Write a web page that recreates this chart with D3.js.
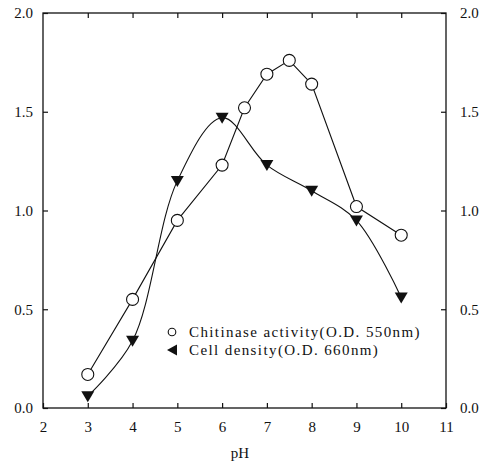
<!DOCTYPE html>
<html>
<head>
<meta charset="utf-8">
<script src="https://cdn.jsdelivr.net/npm/d3@7"></script>
<style>
  body { margin: 0; background: #fff; }
  svg text { font-family: "Liberation Serif", "DejaVu Serif", serif; fill: #111; }
</style>
</head>
<body>
<div id="app"></div>
<script>
// 数据
const chitinasePH = [3, 4, 5, 6, 6.5, 7, 7.5, 8, 9, 10]
const chitinaseOD = [0.17, 0.55, 0.95, 1.23, 1.52, 1.69, 1.76, 1.64, 1.02, 0.875]
const cellPH = [3, 4, 5, 6, 7, 8, 9, 10]
const cellOD = [0.06, 0.34, 1.15, 1.47, 1.23, 1.10, 0.95, 0.56]
const xTicks = [2, 3, 4, 5, 6, 7, 8, 9, 10, 11]
const yTicks = [0, 0.5, 1.0, 1.5, 2.0]
const legendLabels = ['Chitinase activity(O.D. 550nm)', 'Cell density(O.D. 660nm)']

const width = 485
const height = 465
const margin = { top: 13, right: 39, bottom: 57, left: 43 }
const innerW = width - margin.left - margin.right
const innerH = height - margin.top - margin.bottom

const svg = d3.select('#app')
  .append('svg')
  .attr('width', width)
  .attr('height', height)

const g = svg.append('g')
  .attr('transform', `translate(${margin.left}, ${margin.top})`)

const x = d3.scaleLinear().domain([2, 11]).range([0, innerW])
const y = d3.scaleLinear().domain([0, 2]).range([innerH, 0])

// 边框
g.append('rect')
  .attr('width', innerW)
  .attr('height', innerH)
  .attr('fill', 'none')
  .attr('stroke', '#111')
  .attr('stroke-width', 1.3)

// 坐标轴，刻度朝内
const styleAxis = sel => {
  sel.select('.domain').remove()
  sel.selectAll('line').attr('stroke', '#111').attr('stroke-width', 1.2)
  sel.selectAll('text').attr('font-size', 15).attr('font-family', '"Liberation Serif", serif')
}
g.append('g')
  .attr('transform', `translate(0, ${innerH})`)
  .call(d3.axisBottom(x).tickValues(xTicks).tickSize(-5).tickPadding(13).tickFormat(d3.format('d')))
  .call(styleAxis)
g.append('g')
  .call(d3.axisTop(x).tickValues(xTicks.slice(1, -1)).tickSize(-5).tickFormat(''))
  .call(styleAxis)
g.append('g')
  .call(d3.axisLeft(y).tickValues(yTicks).tickSize(-5).tickPadding(10).tickFormat(d3.format('.1f')))
  .call(styleAxis)
g.append('g')
  .attr('transform', `translate(${innerW}, 0)`)
  .call(d3.axisRight(y).tickValues(yTicks).tickSize(-5).tickPadding(14).tickFormat(d3.format('.1f')))
  .call(styleAxis)

g.append('text')
  .attr('x', x(6.4))
  .attr('y', innerH + 50)
  .attr('text-anchor', 'middle')
  .attr('font-size', 15)
  .text('pH')

// 曲线
const chit = chitinasePH.map((p, i) => [p, chitinaseOD[i]])
const cell = cellPH.map((p, i) => [p, cellOD[i]])

const lineLinear = d3.line().x(d => x(d[0])).y(d => y(d[1]))
const lineSmooth = d3.line().x(d => x(d[0])).y(d => y(d[1])).curve(d3.curveCatmullRom.alpha(0.5))

g.append('path')
  .attr('d', lineSmooth(cell))
  .attr('fill', 'none')
  .attr('stroke', '#111')
  .attr('stroke-width', 1.1)
g.append('path')
  .attr('d', lineLinear(chit))
  .attr('fill', 'none')
  .attr('stroke', '#111')
  .attr('stroke-width', 1.1)

// 三角形标记（朝下）
const triDown = 'M-6.5,-5 L6.5,-5 L0,6 Z'
g.selectAll('.tri')
  .data(cell)
  .enter()
  .append('path')
  .attr('class', 'tri')
  .attr('transform', d => `translate(${x(d[0])}, ${y(d[1])})`)
  .attr('d', triDown)
  .attr('fill', '#111')

g.selectAll('.circ')
  .data(chit)
  .enter()
  .append('circle')
  .attr('class', 'circ')
  .attr('cx', d => x(d[0]))
  .attr('cy', d => y(d[1]))
  .attr('r', 6)
  .attr('fill', '#fff')
  .attr('stroke', '#111')
  .attr('stroke-width', 1.1)

// 图例
const lg = svg.append('g').attr('transform', 'translate(172, 332)')
lg.append('circle')
  .attr('r', 3.8)
  .attr('fill', 'none')
  .attr('stroke', '#111')
  .attr('stroke-width', 1.1)
lg.append('path')
  .attr('transform', 'translate(0, 18)')
  .attr('d', 'M-5,0 L5,-5.5 L5,5.5 Z')
  .attr('fill', '#111')
lg.selectAll('text')
  .data(legendLabels)
  .enter()
  .append('text')
  .attr('x', 17)
  .attr('y', (d, i) => i * 18 + 5)
  .attr('font-size', 15)
  .attr('letter-spacing', 1.4)
  .text(d => d)
</script>
</body>
</html>
